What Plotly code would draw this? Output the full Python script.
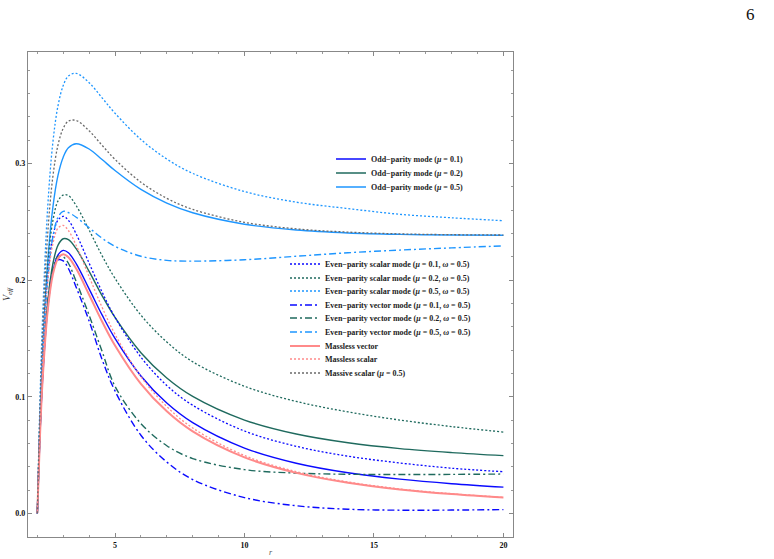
import plotly.graph_objects as go

r = [2.0, 2.1, 2.2, 2.4, 2.6, 2.8, 3.0, 3.2, 3.5, 4.0, 4.5, 5.0, 6.0, 7.0, 8.0, 10.0, 12.0, 14.0, 16.0, 18.0, 20.0]

odd_01 = [0, 0.0653, 0.1136, 0.1753, 0.2071, 0.2216, 0.2255, 0.2235, 0.2142, 0.1925, 0.1702, 0.150, 0.1178, 0.0946, 0.0778, 0.056, 0.0430, 0.0348, 0.0293, 0.0254, 0.0225]
odd_02 = [0, 0.0667, 0.1163, 0.1803, 0.2140, 0.2301, 0.2355, 0.2347, 0.2270, 0.2075, 0.1868, 0.168, 0.1378, 0.1161, 0.1003, 0.080, 0.0680, 0.0605, 0.0555, 0.0521, 0.0495]
odd_05 = [0, 0.0767, 0.1354, 0.2153, 0.2625, 0.2901, 0.3055, 0.3135, 0.3170, 0.3125, 0.3035, 0.294, 0.2778, 0.2661, 0.2578, 0.248, 0.2430, 0.2405, 0.2393, 0.2387, 0.2385]

even_s_01 = [0, 0.0766, 0.1327, 0.2024, 0.2374, 0.2516, 0.2547, 0.2514, 0.2397, 0.2146, 0.1899, 0.1681, 0.134, 0.1097, 0.0927, 0.0706, 0.0575, 0.049, 0.0432, 0.0387, 0.0357]
even_s_02 = [0, 0.080, 0.139, 0.213, 0.251, 0.268, 0.273, 0.2726, 0.264, 0.243, 0.221, 0.2016, 0.170, 0.147, 0.130, 0.109, 0.096, 0.087, 0.080, 0.0744, 0.0697]
even_s_05 = [0, 0.0945, 0.1661, 0.2623, 0.3181, 0.3498, 0.3669, 0.3751, 0.3774, 0.3694, 0.3564, 0.3432, 0.3207, 0.3039, 0.2916, 0.2760, 0.2669, 0.2614, 0.2565, 0.2535, 0.2510]

even_v_01 = [0, 0.068, 0.117, 0.178, 0.207, 0.2175, 0.2165, 0.210, 0.194, 0.165, 0.132, 0.105, 0.067, 0.044, 0.029, 0.0135, 0.0065, 0.0035, 0.0027, 0.0028, 0.0032]
even_v_02 = [0, 0.069, 0.119, 0.181, 0.210, 0.2205, 0.220, 0.2145, 0.199, 0.170, 0.139, 0.109, 0.077, 0.058, 0.047, 0.0375, 0.0345, 0.0335, 0.0333, 0.0334, 0.0337]
even_v_05 = [0, 0.075, 0.13, 0.200, 0.237, 0.254, 0.259, 0.258, 0.254, 0.245, 0.236, 0.229, 0.2205, 0.217, 0.2163, 0.2175, 0.2205, 0.2235, 0.2258, 0.2277, 0.2294]

massless_vector = [0, 0.0648, 0.1127, 0.1736, 0.2048, 0.2187, 0.2222, 0.2197, 0.2099, 0.1875, 0.1646, 0.144, 0.1111, 0.0875, 0.0703, 0.048, 0.0347, 0.0262, 0.0205, 0.0165, 0.0135]
massless_scalar = [0, 0.0751, 0.1298, 0.1977, 0.2311, 0.2447, 0.2469, 0.2426, 0.2299, 0.2031, 0.1768, 0.1536, 0.1173, 0.0916, 0.0732, 0.0496, 0.0357, 0.0269, 0.0209, 0.0168, 0.0137]
massive_scalar = [0, 0.0870, 0.1525, 0.2394, 0.2888, 0.3161, 0.3302, 0.3364, 0.3370, 0.3281, 0.3157, 0.3036, 0.2840, 0.2702, 0.2607, 0.2496, 0.2440, 0.2412, 0.2397, 0.2390, 0.2387]

x_ticks = [5, 10, 15, 20]
y_ticks = [0.0, 0.1, 0.2, 0.3]
y_tick_labels = ["0.0", "0.1", "0.2", "0.3"]

BLUE = "#0a0aff"
TEAL = "#1f6a5e"
LBLUE = "#1e96ff"
PINK = "#ff8a8a"
GRAY = "#6a6a6a"
DOT = "2px,2px"
DASHDOT = "7px,3px,2px,3px"

series = [
    (odd_01, "<b>Odd−parity mode (<i>μ</i> = 0.1)</b>", BLUE, "solid", 1.4),
    (odd_02, "<b>Odd−parity mode (<i>μ</i> = 0.2)</b>", TEAL, "solid", 1.4),
    (odd_05, "<b>Odd−parity mode (<i>μ</i> = 0.5)</b>", LBLUE, "solid", 1.4),
    (even_s_01, "<b>Even−parity scalar mode (<i>μ</i> = 0.1, <i>ω</i> = 0.5)</b>", BLUE, DOT, 1.3),
    (even_s_02, "<b>Even−parity scalar mode (<i>μ</i> = 0.2, <i>ω</i> = 0.5)</b>", TEAL, DOT, 1.3),
    (even_s_05, "<b>Even−parity scalar mode (<i>μ</i> = 0.5, <i>ω</i> = 0.5)</b>", LBLUE, DOT, 1.3),
    (even_v_01, "<b>Even−parity vector mode (<i>μ</i> = 0.1, <i>ω</i> = 0.5)</b>", BLUE, DASHDOT, 1.4),
    (even_v_02, "<b>Even−parity vector mode (<i>μ</i> = 0.2, <i>ω</i> = 0.5)</b>", TEAL, DASHDOT, 1.4),
    (even_v_05, "<b>Even−parity vector mode (<i>μ</i> = 0.5, <i>ω</i> = 0.5)</b>", LBLUE, DASHDOT, 1.4),
    (massless_vector, "<b>Massless vector</b>", PINK, "solid", 2.0),
    (massless_scalar, "<b>Massless scalar</b>", PINK, DOT, 1.3),
    (massive_scalar, "<b>Massive scalar (<i>μ</i> = 0.5)</b>", GRAY, DOT, 1.3),
]

# legend layout (pixel rows of each entry, text start x)
PLOT_L, PLOT_B, PLOT_H, PLOT_W = 28, 537, 485, 485
legend_rows = [159, 173, 187, 264, 278, 291, 305, 318, 332, 346, 359, 373]
legend_text_x = [375, 375, 375] + [329] * 9

fig = go.Figure()
legend_layouts = {}
for i, (ys, name, color, dash, width) in enumerate(series):
    key = "legend" if i == 0 else f"legend{i + 1}"
    fig.add_trace(go.Scatter(
        x=r, y=ys, mode="lines", name=name, legend=key,
        line=dict(color=color, dash=dash, width=width, shape="spline", smoothing=1.0),
    ))
    legend_layouts[key] = dict(
        x=(legend_text_x[i] - 44 - PLOT_L) / PLOT_W,
        y=(PLOT_B - legend_rows[i]) / PLOT_H,
        xanchor="left", yanchor="middle",
        font=dict(family="Liberation Serif", size=8, color="#222"),
        bgcolor="rgba(0,0,0,0)", itemwidth=30, borderwidth=0,
    )

tickfont = dict(family="Liberation Serif", size=8, color="#111")

fig.update_layout(
    width=774, height=559,
    margin=dict(l=28, r=261, t=52, b=22, autoexpand=False),
    paper_bgcolor="white", plot_bgcolor="white",
    xaxis=dict(
        range=[1.64, 20.37], tickvals=x_ticks, ticktext=[f"<b>{v}</b>" for v in x_ticks],
        ticks="inside", ticklen=4, tickcolor="#888", tickwidth=1,
        minor=dict(dtick=1, tick0=0, ticks="inside", ticklen=2, tickcolor="#999"),
        showline=True, linecolor="#888", linewidth=1.2, mirror="allticks",
        showgrid=False, zeroline=False, tickfont=tickfont, automargin=False,
        title=dict(text="<i>r</i>", font=dict(family="Liberation Serif", size=8, color="#555"), standoff=0),
    ),
    yaxis=dict(
        range=[-0.0203, 0.3957], tickvals=y_ticks, ticktext=[f"<b>{t}</b>" for t in y_tick_labels],
        ticks="inside", ticklen=4, tickcolor="#888", tickwidth=1,
        minor=dict(dtick=0.02, tick0=0, ticks="inside", ticklen=2, tickcolor="#999"),
        showline=True, linecolor="#888", linewidth=1.2, mirror="allticks",
        showgrid=False, zeroline=False, tickfont=tickfont, automargin=False,
        title=dict(text="<i>V<sub>eff</sub></i>", font=dict(family="Liberation Serif", size=10, color="#333"), standoff=2),
    ),
    showlegend=True,
    **legend_layouts,
)

fig.add_annotation(text="6", xref="paper", yref="paper",
                   x=(750 - PLOT_L) / PLOT_W, y=(PLOT_B - 14) / PLOT_H,
                   xanchor="center", yanchor="middle", showarrow=False,
                   font=dict(family="Liberation Serif", size=17, color="#111"))

fig.write_html("out.html")
